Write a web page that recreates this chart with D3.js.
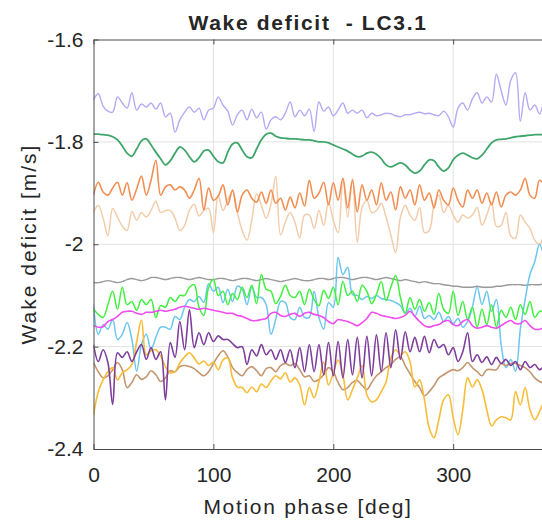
<!DOCTYPE html>
<html><head><meta charset="utf-8">
<script src="https://cdn.jsdelivr.net/npm/d3@7"></script>
<style>
body{margin:0;background:#fff}
svg{display:block}
text{font-family:"Liberation Sans",Arial,Helvetica,sans-serif;fill:#262626}
</style>
</head><body>
<svg id="chart" width="542" height="528"></svg>
<script>
const phase=[0,4,8,12,16,20,24,28,32,36,40,44,48,52,56,60,64,68,72,76,80,84,88,92,96,100,104,108,112,116,120,124,128,132,136,140,144,148,152,156,160,164,168,172,176,180,184,188,192,196,200,204,208,212,216,220,224,228,232,236,240,244,248,252,256,260,264,268,272,276,280,284,288,292,296,300,304,308,312,316,320,324,328,332,336,340,344,348,352,356,360,364,368,372,376];

const lavender=[-1.718,-1.706,-1.730,-1.740,-1.742,-1.712,-1.724,-1.734,-1.704,-1.738,
-1.726,-1.732,-1.724,-1.736,-1.724,-1.751,-1.744,-1.781,-1.757,-1.742,
-1.732,-1.742,-1.734,-1.757,-1.738,-1.734,-1.712,-1.728,-1.740,-1.767,
-1.747,-1.738,-1.757,-1.736,-1.753,-1.742,-1.775,-1.757,-1.751,-1.757,
-1.744,-1.722,-1.751,-1.738,-1.749,-1.736,-1.780,-1.722,-1.740,-1.732,
-1.749,-1.738,-1.724,-1.744,-1.738,-1.744,-1.738,-1.753,-1.744,-1.749,
-1.747,-1.744,-1.745,-1.749,-1.751,-1.747,-1.747,-1.744,-1.742,-1.745,
-1.744,-1.747,-1.749,-1.740,-1.751,-1.771,-1.734,-1.724,-1.738,-1.716,
-1.704,-1.724,-1.712,-1.722,-1.668,-1.700,-1.728,-1.680,-1.665,-1.760,
-1.704,-1.738,-1.728,-1.745,-1.712];

const seaGreen=[-1.785,-1.785,-1.786,-1.787,-1.790,-1.796,-1.808,-1.822,-1.828,-1.814,
-1.798,-1.794,-1.806,-1.820,-1.833,-1.845,-1.837,-1.822,-1.810,-1.816,
-1.829,-1.839,-1.831,-1.818,-1.816,-1.828,-1.839,-1.841,-1.820,-1.804,
-1.802,-1.816,-1.829,-1.831,-1.814,-1.796,-1.785,-1.783,-1.789,-1.792,
-1.793,-1.794,-1.794,-1.795,-1.796,-1.796,-1.798,-1.800,-1.800,-1.802,
-1.806,-1.810,-1.814,-1.818,-1.824,-1.829,-1.828,-1.822,-1.820,-1.824,
-1.833,-1.845,-1.849,-1.845,-1.841,-1.845,-1.855,-1.861,-1.857,-1.845,
-1.835,-1.837,-1.849,-1.857,-1.851,-1.835,-1.826,-1.822,-1.826,-1.831,
-1.833,-1.826,-1.814,-1.802,-1.796,-1.795,-1.794,-1.792,-1.790,-1.789,
-1.788,-1.787,-1.786,-1.786,-1.786];

const orange=[-1.904,-1.879,-1.898,-1.904,-1.890,-1.879,-1.904,-1.880,-1.914,-1.892,
-1.867,-1.904,-1.875,-1.836,-1.904,-1.888,-1.884,-1.894,-1.888,-1.894,
-1.910,-1.894,-1.871,-1.933,-1.890,-1.914,-1.906,-1.884,-1.923,-1.894,
-1.937,-1.904,-1.894,-1.910,-1.918,-1.898,-1.920,-1.894,-1.920,-1.910,
-1.933,-1.908,-1.929,-1.900,-1.925,-1.875,-1.910,-1.900,-1.879,-1.923,
-1.880,-1.914,-1.871,-1.929,-1.875,-1.937,-1.884,-1.914,-1.894,-1.923,
-1.880,-1.914,-1.898,-1.933,-1.888,-1.910,-1.894,-1.923,-1.884,-1.914,
-1.900,-1.929,-1.894,-1.914,-1.923,-1.890,-1.914,-1.927,-1.894,-1.910,
-1.894,-1.920,-1.900,-1.923,-1.898,-1.927,-1.904,-1.898,-1.904,-1.894,
-1.871,-1.904,-1.910,-1.875,-1.884];

const peach=[-1.938,-1.924,-1.949,-1.984,-1.930,-1.947,-1.965,-1.973,-1.936,-1.953,
-1.938,-1.947,-1.934,-1.916,-1.938,-1.934,-1.934,-1.949,-1.973,-1.963,
-1.934,-1.922,-1.945,-1.934,-1.930,-1.977,-1.904,-1.934,-1.914,-1.896,
-1.938,-1.973,-1.992,-1.953,-1.902,-1.924,-1.949,-1.922,-1.867,-1.982,
-1.957,-1.938,-1.957,-1.988,-1.943,-1.943,-1.969,-1.934,-1.963,-1.918,
-1.953,-1.977,-1.871,-1.947,-1.871,-1.996,-1.928,-1.914,-1.938,-1.934,
-1.920,-1.947,-1.982,-2.016,-1.947,-1.924,-1.943,-1.953,-1.928,-1.977,
-1.973,-1.924,-1.904,-1.938,-1.924,-1.943,-1.957,-1.943,-1.949,-1.943,
-1.928,-1.963,-1.943,-1.918,-1.965,-1.963,-1.938,-1.984,-1.988,-1.943,
-1.957,-1.969,-1.992,-2.000,-1.973];

const grey=[-2.075,-2.075,-2.073,-2.071,-2.073,-2.075,-2.073,-2.069,-2.067,-2.069,
-2.071,-2.069,-2.065,-2.065,-2.067,-2.069,-2.067,-2.065,-2.065,-2.067,
-2.069,-2.067,-2.065,-2.067,-2.069,-2.069,-2.067,-2.067,-2.069,-2.071,
-2.069,-2.067,-2.067,-2.069,-2.071,-2.069,-2.067,-2.069,-2.071,-2.073,
-2.071,-2.069,-2.067,-2.069,-2.071,-2.071,-2.069,-2.067,-2.067,-2.069,
-2.067,-2.065,-2.065,-2.067,-2.069,-2.067,-2.065,-2.065,-2.067,-2.069,
-2.067,-2.065,-2.067,-2.069,-2.071,-2.069,-2.071,-2.073,-2.075,-2.073,
-2.075,-2.077,-2.077,-2.079,-2.080,-2.082,-2.082,-2.084,-2.084,-2.084,
-2.082,-2.084,-2.084,-2.084,-2.082,-2.082,-2.080,-2.079,-2.079,-2.079,
-2.080,-2.079,-2.079,-2.079,-2.077];

const brightGreen=[-2.127,-2.137,-2.143,-2.118,-2.092,-2.127,-2.084,-2.118,-2.112,-2.129,
-2.108,-2.118,-2.108,-2.143,-2.120,-2.123,-2.104,-2.112,-2.100,-2.100,
-2.084,-2.079,-2.123,-2.139,-2.084,-2.069,-2.100,-2.092,-2.118,-2.096,
-2.108,-2.084,-2.104,-2.080,-2.116,-2.059,-2.088,-2.092,-2.116,-2.102,
-2.080,-2.100,-2.104,-2.092,-2.118,-2.088,-2.108,-2.120,-2.090,-2.106,
-2.084,-2.118,-2.073,-2.100,-2.092,-2.112,-2.080,-2.092,-2.116,-2.098,
-2.073,-2.110,-2.084,-2.061,-2.104,-2.135,-2.104,-2.127,-2.108,-2.131,
-2.114,-2.137,-2.096,-2.127,-2.135,-2.092,-2.139,-2.112,-2.147,-2.123,
-2.162,-2.127,-2.157,-2.118,-2.162,-2.129,-2.143,-2.123,-2.147,-2.118,
-2.137,-2.112,-2.143,-2.131,-2.131];

const skyBlue=[-2.118,-2.176,-2.157,-2.166,-2.147,-2.186,-2.176,-2.153,-2.186,-2.248,
-2.196,-2.176,-2.205,-2.182,-2.162,-2.162,-2.166,-2.141,-2.147,-2.123,
-2.108,-2.112,-2.102,-2.114,-2.077,-2.092,-2.084,-2.114,-2.088,-2.112,
-2.082,-2.088,-2.118,-2.084,-2.104,-2.104,-2.118,-2.176,-2.147,-2.112,
-2.114,-2.143,-2.147,-2.123,-2.143,-2.143,-2.092,-2.143,-2.166,-2.114,
-2.123,-2.026,-2.059,-2.045,-2.098,-2.100,-2.108,-2.102,-2.106,-2.100,
-2.106,-2.108,-2.110,-2.114,-2.120,-2.135,-2.125,-2.141,-2.121,-2.145,
-2.139,-2.147,-2.133,-2.151,-2.141,-2.155,-2.145,-2.162,-2.151,-2.123,
-2.084,-2.118,-2.092,-2.131,-2.108,-2.196,-2.241,-2.225,-2.248,-2.166,
-2.108,-2.059,-2.034,-2.000,-2.030];

const magenta=[-2.159,-2.162,-2.161,-2.151,-2.147,-2.141,-2.133,-2.131,-2.131,-2.135,
-2.137,-2.133,-2.133,-2.131,-2.129,-2.131,-2.129,-2.127,-2.123,-2.121,
-2.123,-2.125,-2.127,-2.125,-2.127,-2.129,-2.131,-2.133,-2.135,-2.135,
-2.139,-2.141,-2.145,-2.149,-2.149,-2.147,-2.145,-2.135,-2.133,-2.139,
-2.141,-2.137,-2.135,-2.141,-2.135,-2.133,-2.137,-2.139,-2.143,-2.151,
-2.155,-2.147,-2.149,-2.151,-2.155,-2.159,-2.153,-2.145,-2.133,-2.135,
-2.139,-2.141,-2.143,-2.145,-2.143,-2.139,-2.131,-2.141,-2.151,-2.159,
-2.162,-2.159,-2.157,-2.151,-2.149,-2.157,-2.159,-2.151,-2.147,-2.159,
-2.164,-2.162,-2.159,-2.162,-2.164,-2.159,-2.153,-2.149,-2.155,-2.155,
-2.149,-2.159,-2.166,-2.166,-2.162];

const brown=[-2.231,-2.249,-2.261,-2.257,-2.245,-2.231,-2.245,-2.280,-2.270,-2.255,
-2.264,-2.259,-2.247,-2.255,-2.268,-2.261,-2.247,-2.249,-2.239,-2.237,
-2.239,-2.243,-2.251,-2.257,-2.249,-2.233,-2.218,-2.208,-2.220,-2.241,
-2.251,-2.257,-2.245,-2.239,-2.247,-2.257,-2.243,-2.241,-2.249,-2.237,
-2.233,-2.237,-2.233,-2.245,-2.259,-2.257,-2.268,-2.264,-2.255,-2.241,
-2.249,-2.270,-2.284,-2.280,-2.270,-2.266,-2.276,-2.284,-2.270,-2.257,
-2.249,-2.241,-2.235,-2.225,-2.220,-2.237,-2.253,-2.268,-2.280,-2.296,
-2.288,-2.276,-2.261,-2.255,-2.249,-2.245,-2.247,-2.241,-2.231,-2.241,
-2.249,-2.257,-2.245,-2.245,-2.245,-2.233,-2.237,-2.233,-2.233,-2.237,
-2.241,-2.249,-2.261,-2.268,-2.272];

const gold=[-2.333,-2.288,-2.265,-2.249,-2.241,-2.265,-2.251,-2.245,-2.235,-2.191,
-2.148,-2.216,-2.208,-2.206,-2.218,-2.239,-2.251,-2.249,-2.232,-2.220,
-2.212,-2.222,-2.234,-2.228,-2.237,-2.230,-2.245,-2.226,-2.222,-2.261,
-2.279,-2.280,-2.290,-2.279,-2.288,-2.273,-2.280,-2.267,-2.257,-2.263,
-2.251,-2.269,-2.261,-2.275,-2.314,-2.280,-2.300,-2.269,-2.230,-2.275,
-2.251,-2.226,-2.255,-2.304,-2.284,-2.261,-2.237,-2.294,-2.308,-2.304,
-2.288,-2.269,-2.222,-2.206,-2.216,-2.210,-2.230,-2.279,-2.265,-2.304,
-2.359,-2.378,-2.343,-2.304,-2.294,-2.339,-2.372,-2.323,-2.261,-2.279,
-2.265,-2.284,-2.323,-2.355,-2.343,-2.337,-2.339,-2.343,-2.288,-2.314,
-2.280,-2.323,-2.343,-2.327,-2.304];

const purple=[-2.196,-2.229,-2.206,-2.231,-2.313,-2.212,-2.221,-2.210,-2.229,-2.210,
-2.196,-2.225,-2.202,-2.225,-2.210,-2.304,-2.192,-2.221,-2.151,-2.206,
-2.128,-2.202,-2.173,-2.196,-2.173,-2.190,-2.179,-2.186,-2.186,-2.194,
-2.202,-2.200,-2.235,-2.206,-2.218,-2.196,-2.216,-2.206,-2.225,-2.206,
-2.231,-2.206,-2.241,-2.202,-2.249,-2.196,-2.249,-2.196,-2.255,-2.192,
-2.257,-2.190,-2.261,-2.186,-2.255,-2.182,-2.261,-2.180,-2.257,-2.177,
-2.249,-2.173,-2.241,-2.167,-2.225,-2.171,-2.210,-2.182,-2.210,-2.180,
-2.212,-2.186,-2.202,-2.196,-2.216,-2.202,-2.229,-2.210,-2.173,-2.229,
-2.216,-2.231,-2.220,-2.235,-2.221,-2.233,-2.225,-2.237,-2.229,-2.245,
-2.229,-2.241,-2.235,-2.245,-2.237];

const seriesList=[lavender,seaGreen,peach,orange,grey,skyBlue,brightGreen,magenta,brown,gold,purple];
const seriesColors=["#b4aaf6","#3fa66b","#f3ccab","#f28e52","#9a9a9a","#6cc6ee","#3ff03f","#f04cf0","#c3966f","#f7bd38","#7e3e9c"];
const seriesWidths=[1.4,1.8,1.5,1.6,1.4,1.5,1.5,1.6,1.6,1.6,1.6];

const xTicks=[0,100,200,300];
const xTickLabels=["0","100","200","300"];
const yTicks=[-1.6,-1.8,-2.0,-2.2,-2.4];
const yTickLabels=["-1.6","-1.8","-2","-2.2","-2.4"];

const svg=d3.select("#chart");
const L=93.5, T=39.5, B=449, R=573.1;
const x=d3.scaleLinear().domain([0,400]).range([L,R]);
const y=d3.scaleLinear().domain([-2.4,-1.6]).range([B,T]);

svg.append("defs").append("clipPath").attr("id","clip")
  .append("rect").attr("x",L).attr("y",T).attr("width",542-L).attr("height",B-T);

// grid
const grid=svg.append("g").attr("stroke","#e2e2e2").attr("stroke-width",1);
grid.selectAll("line.v").data(xTicks.slice(1)).join("line")
  .attr("x1",d=>x(d)).attr("x2",d=>x(d)).attr("y1",T).attr("y2",B);
grid.selectAll("line.h").data(yTicks.slice(1,-1)).join("line")
  .attr("x1",L).attr("x2",R).attr("y1",d=>y(d)).attr("y2",d=>y(d));

// lines
const line=d3.line().x((d,i)=>x(phase[i])).y(d=>y(d)).curve(d3.curveCatmullRom.alpha(0.5));
const lg=svg.append("g").attr("clip-path","url(#clip)");
seriesList.forEach((s,i)=>{
  lg.append("path").attr("d",line(s)).attr("fill","none")
    .attr("stroke",seriesColors[i]).attr("stroke-width",seriesWidths[i])
    .attr("stroke-linejoin","round");
});

// axes
const axisColor="#4d4d4d";
function style(g){
  g.selectAll(".domain").attr("stroke",axisColor).attr("stroke-width",1);
  g.selectAll(".tick line").attr("stroke",axisColor).attr("stroke-width",1);
  g.selectAll("text").attr("font-size",21).attr("fill","#262626")
   .style("font-family",'"Liberation Sans",Arial,sans-serif');
}
svg.append("g").attr("transform",`translate(0,${B})`)
  .call(d3.axisBottom(x).tickValues(xTicks).tickFormat((d,i)=>xTickLabels[i])
    .tickSizeInner(-5).tickSizeOuter(0).tickPadding(18)).call(style);
svg.append("g").attr("transform",`translate(0,${T})`)
  .call(d3.axisTop(x).tickValues(xTicks).tickFormat("").tickSizeInner(-5).tickSizeOuter(0)).call(style);
svg.append("g").attr("transform",`translate(${L},0)`)
  .call(d3.axisLeft(y).tickValues(yTicks).tickFormat((d,i)=>yTickLabels[i])
    .tickSizeInner(-5).tickSizeOuter(0).tickPadding(10)).call(style);

// labels
svg.append("text").attr("x",308).attr("y",30).attr("text-anchor","middle")
  .attr("font-size",21).attr("font-weight","bold").style("white-space","pre")
  .style("letter-spacing","1.7px").text("Wake deficit  - LC3.1");
svg.append("text").attr("x",308).attr("y",514).attr("text-anchor","middle")
  .attr("font-size",21).style("letter-spacing","1.7px").text("Motion phase [deg]");
svg.append("text").attr("transform","translate(36,244) rotate(-90)").attr("text-anchor","middle")
  .attr("font-size",21).style("letter-spacing","2px").text("Wake deficit [m/s]");
</script>
</body></html>
